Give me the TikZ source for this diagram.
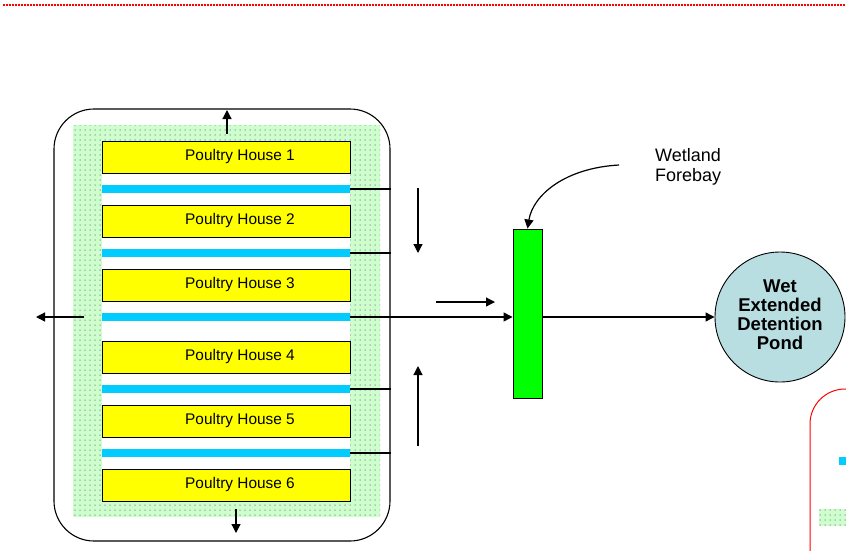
\documentclass[tikz,border=0pt]{standalone}
\usepackage{fontspec}
\setmainfont{Liberation Sans}
\usetikzlibrary{arrows.meta,patterns.meta}
\definecolor{houseyellow}{HTML}{FFFF00}
\definecolor{stripblue}{HTML}{00CCFF}
\definecolor{forebaygreen}{HTML}{00FF00}
\definecolor{pondblue}{HTML}{B8DEE2}
\definecolor{buffergreen}{HTML}{CCFFCC}
\definecolor{dotgray}{HTML}{9A8FA0}
\tikzset{
  house/.style={draw=black, line width=0.9pt, fill=houseyellow, minimum width=248pt, minimum height=32pt, inner sep=0pt},
  housetext/.style={font=\fontsize{15.4}{18}\selectfont, inner sep=0pt},
  strip/.style={fill=stripblue, minimum width=248pt, minimum height=8pt, inner sep=0pt},
  buffer/.style={fill=buffergreen, postaction={pattern={Dots[radius=0.75pt, distance=5pt]}, pattern color=dotgray}},
  link/.style={draw=black, line width=1.2pt},
  arr/.style={link, -{Triangle[length=9pt,width=9pt]}},
}
\begin{document}
\begin{tikzpicture}[x=1pt,y=-1pt]
\useasboundingbox (0,0) rectangle (846,550);
\clip (0,0) rectangle (846,550);
% top red dotted rule
\draw[red, line width=2pt, dash pattern=on 2pt off 1pt] (3,5) -- (846,5);

% site boundary
\node[draw=black, line width=1.1pt, rounded corners=40pt, minimum width=336pt, minimum height=432pt, inner sep=0pt] (site) at (222,325) {};
% green buffer
\path[buffer] (73,125) rectangle (380,517);
\fill[white] (102,142) rectangle (350,500);

% houses
\node[house] (h1) at (226,157) {};
\node[house] (h2) at (226,221) {};
\node[house] (h3) at (226,285) {};
\node[house] (h4) at (226,357) {};
\node[house] (h5) at (226,421) {};
\node[house] (h6) at (226,485) {};
\node[housetext] (t1) at ([xshift=14pt]h1.center) {Poultry House 1};
\node[housetext] (t2) at ([xshift=14pt]h2.center) {Poultry House 2};
\node[housetext] (t3) at ([xshift=14pt]h3.center) {Poultry House 3};
\node[housetext] (t4) at ([xshift=14pt]h4.center) {Poultry House 4};
\node[housetext] (t5) at ([xshift=14pt]h5.center) {Poultry House 5};
\node[housetext] (t6) at ([xshift=14pt]h6.center) {Poultry House 6};
% strips
\node[strip] (s1) at (226,189) {};
\node[strip] (s2) at (226,253) {};
\node[strip] (s3) at (226,317) {};
\node[strip] (s4) at (226,389) {};
\node[strip] (s5) at (226,453) {};

% strip outlets to boundary
\draw[link] (s1.east) -- (s1.east -| site.east);
\draw[link] (s2.east) -- (s2.east -| site.east);
\draw[link] (s4.east) -- (s4.east -| site.east);
\draw[link] (s5.east) -- (s5.east -| site.east);

% forebay
\node[draw=black, line width=0.9pt, fill=forebaygreen, minimum width=29pt, minimum height=169pt, inner sep=0pt] (fb) at (527.5,313.5) {};
% pond
\node[circle, draw=black, line width=0.9pt, fill=pondblue, minimum size=130pt, inner sep=0pt] (pond) at (780,317) {};
\node[align=center, inner sep=0pt, font=\bfseries\fontsize{18.5}{19}\selectfont] (pondtxt) at ([yshift=2.5pt]pond.center) {Wet\\Extended\\Detention\\Pond};
% label
\node[anchor=west, align=left, inner sep=0pt, font=\fontsize{18}{20}\selectfont] (lbl) at (655,167) {Wetland\\Forebay};

% main flow
\draw[arr] (s3.east) -- (s3.east -| fb.west);
\draw[arr] (fb.east |- s3.east) -- (pond.west);
\draw[arr] (619,165) .. controls (565,168) and (533,195) .. (fb.north);

% overland flow arrows
\coordinate (inL) at (84,317);
\coordinate (outL) at (36,317);
\draw[arr] (inL) -- (outL);
\coordinate (topA) at (227,134);
\draw[arr] (topA) -- (227,110);
\coordinate (botA) at (236,509);
\draw[arr] (botA) -- (236,533);
\coordinate (dA) at (418,188);
\draw[arr] (dA) -- (418,253);
\coordinate (uA) at (418,446);
\draw[arr] (uA) -- (418,366);
\coordinate (rA) at (436,302);
\draw[arr] (rA) -- (495,302);

% partial legend box on the right
\draw[red, line width=1pt, rounded corners=35pt] (870,389) -- (810,389) -- (810,600);
\fill[stripblue] (839,457) rectangle (850,465);
\path[buffer] (819,509) rectangle (850,526);
\end{tikzpicture}
\end{document}
